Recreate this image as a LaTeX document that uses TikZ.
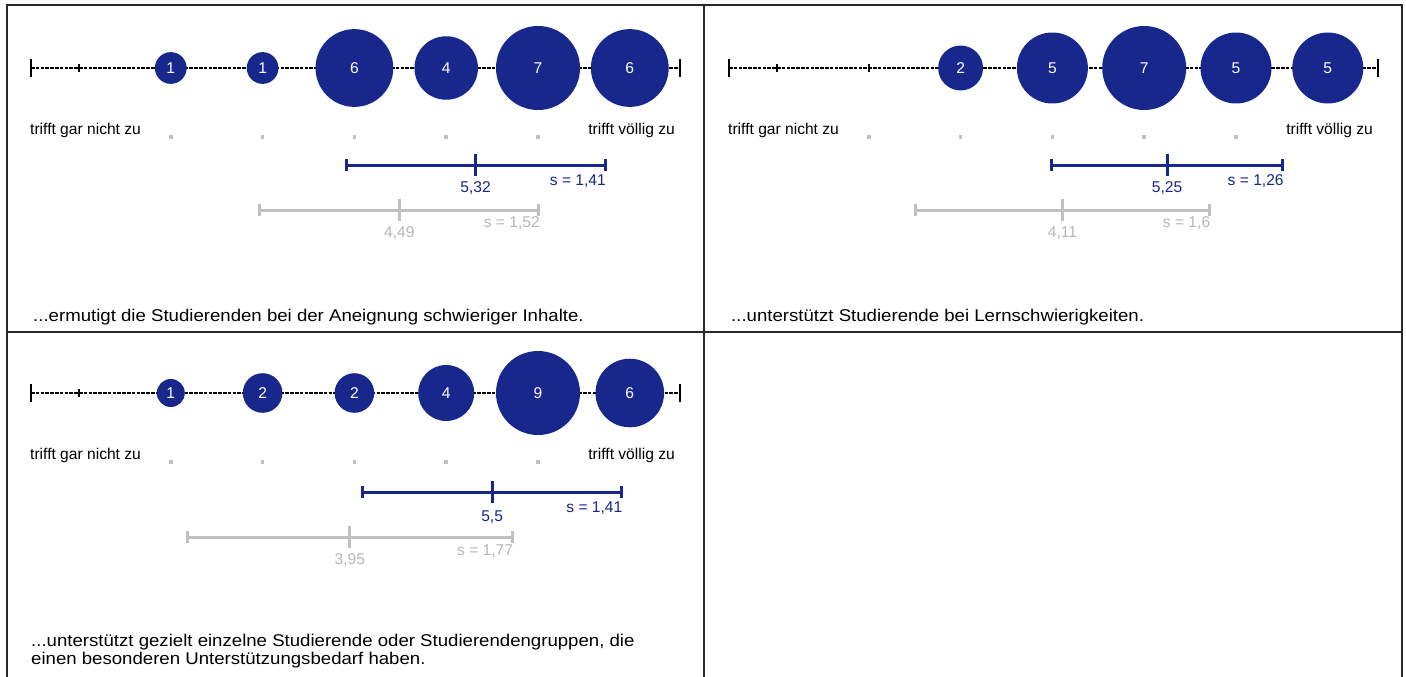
\documentclass[tikz,border=0pt]{standalone}
\usepackage{fontspec}
\setmainfont{Liberation Sans}
\newfontfamily\quotefont{Liberation Sans}[FakeStretch=1.095]
\definecolor{dblue}{RGB}{23,39,140}
\definecolor{lgray}{RGB}{192,192,192}
\definecolor{tgray}{RGB}{182,182,182}
\definecolor{framec}{RGB}{40,40,40}
% #1 xoff, #2 axis y, #3 prefix
\newcommand\scaleaxis[3]{%
  \coordinate (#3-l) at ({31+#1},#2);
  \coordinate (#3-r) at ({680+#1},#2);
  \draw[axisline] (#3-l) -- (#3-r);
  \draw[endtick] ([yshift=-9pt]#3-l) -- ([yshift=9pt]#3-l);
  \draw[endtick] ([yshift=-9pt]#3-r) -- ([yshift=9pt]#3-r);
  \foreach \v in {1,...,7}{
    \coordinate (#3-t\v) at ({#1+79+(\v-1)*91.8},#2);
    \draw[midtick] ([yshift=-4pt]#3-t\v) -- ([yshift=4pt]#3-t\v);
  }
}
\begin{document}
\begin{tikzpicture}[x=1pt,y=-1pt,font=\fontsize{15.6}{18}\selectfont,
  axisline/.style={line width=2.6pt, dash pattern=on 3.6pt off 1.2pt, black},
  endtick/.style={line width=2.6pt, black},
  midtick/.style={line width=2.2pt, black},
  bubble/.style={circle, fill=dblue, draw=none, text=white, inner sep=0pt},
  sdot/.style={rectangle, fill=lgray, minimum size=3.5pt, inner sep=0pt},
  bluebar/.style={line width=3pt, dblue},
  graybar/.style={line width=3pt, lgray},
  frameline/.style={line width=2pt, framec},
  lbl/.style={inner sep=0pt},
  quote/.style={inner sep=0pt, anchor=west, align=left, font=\quotefont\fontsize{17}{18}\selectfont}]
\useasboundingbox (0,0) rectangle (1406,677);
\fill[white] (0,0) rectangle (1406,677);
% ---------- frame ----------
\draw[frameline] (7,677) -- (7,5) -- (1402,5) -- (1402,677);
\draw[frameline] (704,5) -- (704,677);
\draw[frameline] (7,332) -- (1402,332);
% ---------- panel 1 ----------
\scaleaxis{0}{68}{p1}
\foreach \v/\n in {2/1,3/1,4/6,5/4,6/7,7/6}
  \node[bubble, minimum size={2*42*sqrt(\n/7)}] (p1-b\v) at ({79+(\v-1)*91.8},68) {\n};
\foreach \v in {2,...,6}
  \node[sdot] (p1-d\v) at ({79+(\v-1)*91.8},137) {};
\node[lbl, anchor=west] (p1-lo) at (30,130) {trifft gar nicht zu};
\node[lbl, anchor=east] (p1-hi) at (675,130) {trifft völlig zu};
\coordinate (p1-bm) at ({79+4.32*91.8},165);
\draw[bluebar] ([xshift={-1.41*91.8}]p1-bm) coordinate (p1-ba) -- ([xshift={1.41*91.8}]p1-bm) coordinate (p1-bb);
\draw[bluebar] ([yshift=-6pt]p1-ba) -- ([yshift=6pt]p1-ba);
\draw[bluebar] ([yshift=-6pt]p1-bb) -- ([yshift=6pt]p1-bb);
\draw[bluebar] ([yshift=-11pt]p1-bm) -- ([yshift=11pt]p1-bm);
\node[lbl, text=dblue] (p1-bmt) at ([yshift=-23pt]p1-bm) {5,32};
\node[lbl, text=dblue, anchor=east] (p1-bst) at ([yshift=-16pt,xshift=1pt]p1-bb) {s = 1,41};
\coordinate (p1-gm) at ({79+3.49*91.8},210);
\draw[graybar] ([xshift={-1.52*91.8}]p1-gm) coordinate (p1-ga) -- ([xshift={1.52*91.8}]p1-gm) coordinate (p1-gb);
\draw[graybar] ([yshift=-6pt]p1-ga) -- ([yshift=6pt]p1-ga);
\draw[graybar] ([yshift=-6pt]p1-gb) -- ([yshift=6pt]p1-gb);
\draw[graybar] ([yshift=-11pt]p1-gm) -- ([yshift=11pt]p1-gm);
\node[lbl, text=tgray] (p1-gmt) at ([yshift=-23pt]p1-gm) {4,49};
\node[lbl, text=tgray, anchor=east] (p1-gst) at ([yshift=-13pt,xshift=1pt]p1-gb) {s = 1,52};
\node[quote] (p1-q) at (33,317) {...ermutigt die Studierenden bei der Aneignung schwieriger Inhalte.};
% ---------- panel 2 ----------
\scaleaxis{698}{68}{p2}
\foreach \v/\n in {3/2,4/5,5/7,6/5,7/5}
  \node[bubble, minimum size={2*42*sqrt(\n/7)}] (p2-b\v) at ({698+79+(\v-1)*91.8},68) {\n};
\foreach \v in {2,...,6}
  \node[sdot] (p2-d\v) at ({698+79+(\v-1)*91.8},137) {};
\node[lbl, anchor=west] (p2-lo) at (728,130) {trifft gar nicht zu};
\node[lbl, anchor=east] (p2-hi) at (1373,130) {trifft völlig zu};
\coordinate (p2-bm) at ({698+79+4.25*91.8},165);
\draw[bluebar] ([xshift={-1.26*91.8}]p2-bm) coordinate (p2-ba) -- ([xshift={1.26*91.8}]p2-bm) coordinate (p2-bb);
\draw[bluebar] ([yshift=-6pt]p2-ba) -- ([yshift=6pt]p2-ba);
\draw[bluebar] ([yshift=-6pt]p2-bb) -- ([yshift=6pt]p2-bb);
\draw[bluebar] ([yshift=-11pt]p2-bm) -- ([yshift=11pt]p2-bm);
\node[lbl, text=dblue] (p2-bmt) at ([yshift=-23pt]p2-bm) {5,25};
\node[lbl, text=dblue, anchor=east] (p2-bst) at ([yshift=-16pt,xshift=1pt]p2-bb) {s = 1,26};
\coordinate (p2-gm) at ({698+79+3.11*91.8},210);
\draw[graybar] ([xshift={-1.6*91.8}]p2-gm) coordinate (p2-ga) -- ([xshift={1.6*91.8}]p2-gm) coordinate (p2-gb);
\draw[graybar] ([yshift=-6pt]p2-ga) -- ([yshift=6pt]p2-ga);
\draw[graybar] ([yshift=-6pt]p2-gb) -- ([yshift=6pt]p2-gb);
\draw[graybar] ([yshift=-11pt]p2-gm) -- ([yshift=11pt]p2-gm);
\node[lbl, text=tgray] (p2-gmt) at ([yshift=-23pt]p2-gm) {4,11};
\node[lbl, text=tgray, anchor=east] (p2-gst) at ([yshift=-13pt,xshift=1pt]p2-gb) {s = 1,6};
\node[quote] (p2-q) at (731,317) {...unterstützt Studierende bei Lernschwierigkeiten.};
% ---------- panel 3 ----------
\scaleaxis{0}{393}{p3}
\foreach \v/\n in {2/1,3/2,4/2,5/4,6/9,7/6}
  \node[bubble, minimum size={2*42*sqrt(\n/9)}] (p3-b\v) at ({79+(\v-1)*91.8},393) {\n};
\foreach \v in {2,...,6}
  \node[sdot] (p3-d\v) at ({79+(\v-1)*91.8},462) {};
\node[lbl, anchor=west] (p3-lo) at (30,455) {trifft gar nicht zu};
\node[lbl, anchor=east] (p3-hi) at (675,455) {trifft völlig zu};
\coordinate (p3-bm) at ({79+4.5*91.8},492);
\draw[bluebar] ([xshift={-1.41*91.8}]p3-bm) coordinate (p3-ba) -- ([xshift={1.41*91.8}]p3-bm) coordinate (p3-bb);
\draw[bluebar] ([yshift=-6pt]p3-ba) -- ([yshift=6pt]p3-ba);
\draw[bluebar] ([yshift=-6pt]p3-bb) -- ([yshift=6pt]p3-bb);
\draw[bluebar] ([yshift=-11pt]p3-bm) -- ([yshift=11pt]p3-bm);
\node[lbl, text=dblue] (p3-bmt) at ([yshift=-25pt]p3-bm) {5,5};
\node[lbl, text=dblue, anchor=east] (p3-bst) at ([yshift=-16pt,xshift=1pt]p3-bb) {s = 1,41};
\coordinate (p3-gm) at ({79+2.95*91.8},537);
\draw[graybar] ([xshift={-1.77*91.8}]p3-gm) coordinate (p3-ga) -- ([xshift={1.77*91.8}]p3-gm) coordinate (p3-gb);
\draw[graybar] ([yshift=-6pt]p3-ga) -- ([yshift=6pt]p3-ga);
\draw[graybar] ([yshift=-6pt]p3-gb) -- ([yshift=6pt]p3-gb);
\draw[graybar] ([yshift=-11pt]p3-gm) -- ([yshift=11pt]p3-gm);
\node[lbl, text=tgray] (p3-gmt) at ([yshift=-23pt]p3-gm) {3,95};
\node[lbl, text=tgray, anchor=east] (p3-gst) at ([yshift=-14pt,xshift=1pt]p3-gb) {s = 1,77};
\node[quote] (p3-q) at (31,651) {...unterstützt gezielt einzelne Studierende oder Studierendengruppen, die\\einen besonderen Unterstützungsbedarf haben.};
\end{tikzpicture}
\end{document}
